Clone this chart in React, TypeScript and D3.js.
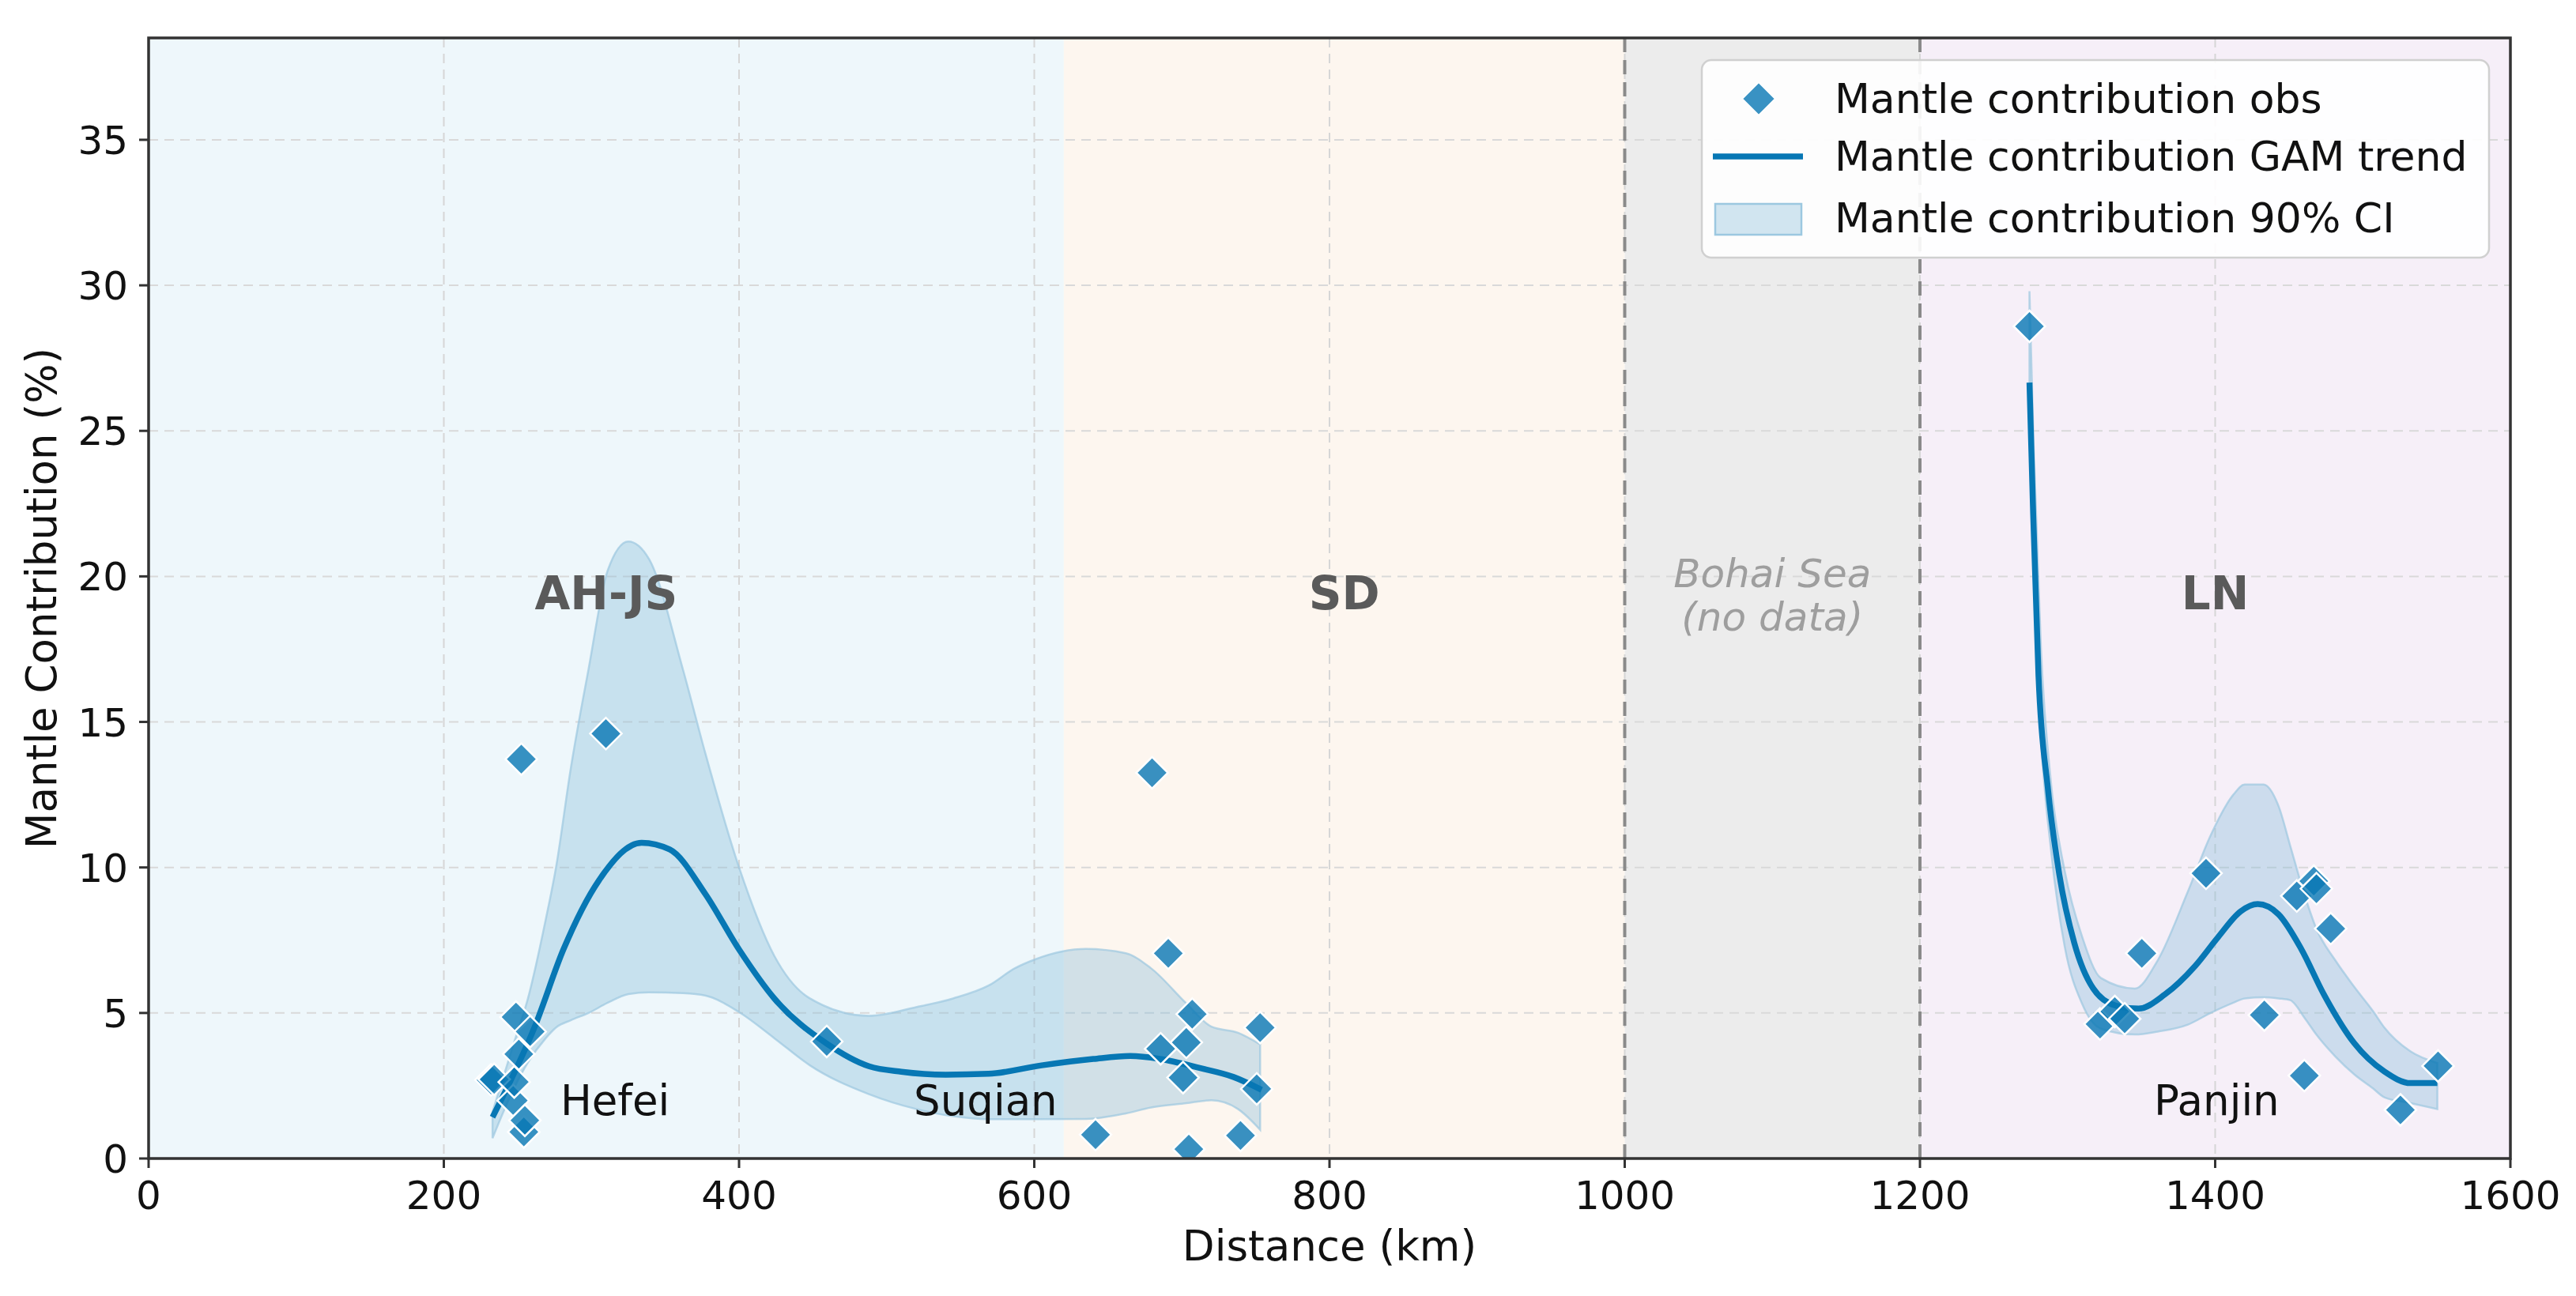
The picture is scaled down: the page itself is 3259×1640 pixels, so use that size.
import React, { useEffect } from "react";
import * as d3 from "d3";

// ---------- data ----------
const obsDistance = [
  232, 234.1, 247, 247.7, 248.9, 250.8, 252.5, 254.2, 254.9, 258.5, 309.8, 459.4,
  641.5, 679.8, 685.6, 690.8, 700.8, 703, 704.7, 707, 739.7, 750.7, 753,
  1274.2, 1322, 1332, 1338.7, 1350.3, 1393.8, 1433.3, 1455.3, 1460.4, 1466.8, 1468.6, 1478.3, 1525.5, 1551,
];
const obsMantle = [
  2.7, 2.72, 1.99, 2.63, 4.86, 3.59, 13.72, 0.91, 1.31, 4.36, 14.6, 4.02,
  0.82, 13.25, 3.77, 7.05, 2.78, 3.99, 0.32, 4.96, 0.79, 2.39, 4.5,
  28.59, 4.62, 5.05, 4.8, 7.05, 9.8, 4.93, 9.02, 2.85, 9.53, 9.27, 7.9, 1.67, 3.18,
];

// GAM trend – segment 1 (AH-JS / SD)
const trendA_x = [233, 262, 281, 305, 334, 353, 377, 400, 424, 459, 488, 510, 540, 569, 605, 640, 665, 685, 712, 735, 754];
const trendA_y = [1.42, 4.58, 7.18, 9.55, 10.85, 10.62, 9.1, 7.18, 5.49, 3.96, 3.17, 2.98, 2.88, 2.91, 3.2, 3.42, 3.52, 3.42, 3.11, 2.8, 2.36];
// CI – segment 1
const ciA_x = [233, 247.7, 257, 269, 276, 286, 298, 311, 325, 339, 362, 377, 400, 424, 448, 488, 520, 545, 569, 587, 601, 635, 662, 679, 703, 720, 738, 753];
const ciA_lo = [0.7, 2.43, 3.3, 4.13, 4.5, 4.75, 5.0, 5.35, 5.65, 5.71, 5.68, 5.6, 5.03, 4.13, 3.2, 2.21, 1.7, 1.45, 1.35, 1.35, 1.35, 1.36, 1.55, 1.75, 1.9, 2.0, 1.7, 0.99];
const ciA_hi = [1.6, 4.0, 5.5, 8.2, 10.0, 13.4, 16.8, 20.2, 21.2, 20.6, 16.8, 13.95, 10.0, 6.95, 5.5, 4.9, 5.2, 5.5, 5.94, 6.54, 6.85, 7.2, 7.05, 6.54, 5.33, 4.53, 4.32, 3.92];

// GAM trend – segment 2 (LN)
const trendB_x = [1274.2, 1276.5, 1280.3, 1286.7, 1294.4, 1304.6, 1317.4, 1332.8, 1348.1, 1366, 1386.5, 1401.9, 1417.3, 1428.8, 1442.9, 1458.3, 1473.6, 1494.1, 1514.6, 1532.5, 1550.5];
const trendB_y = [26.66, 22.5, 16.6, 12.7, 9.76, 7.4, 5.84, 5.25, 5.15, 5.64, 6.62, 7.6, 8.49, 8.74, 8.39, 7.2, 5.64, 3.97, 2.99, 2.59, 2.59];
// CI – segment 2
const ciB_x = [1274.2, 1277, 1282, 1289, 1298, 1310, 1322.6, 1345.6, 1361, 1381.5, 1396.9, 1412.3, 1420, 1432.8, 1443, 1450.8, 1461, 1468.5, 1481.5, 1494.2, 1507.1, 1514.6, 1532.6, 1550.5];
const ciB_lo = [25.5, 20.5, 14.5, 10.5, 7.3, 5.3, 4.46, 4.26, 4.36, 4.6, 5.0, 5.35, 5.5, 5.54, 5.5, 5.44, 4.8, 4.26, 3.5, 2.89, 2.4, 2.1, 1.9, 1.7];
const ciB_hi = [29.8, 24.5, 17.5, 12.8, 9.9, 7.6, 6.2, 5.84, 6.8, 9.17, 11.1, 12.5, 12.85, 12.85, 12.1, 10.75, 8.98, 7.9, 6.8, 5.9, 5.05, 4.5, 3.67, 3.28];

// Regions
const regionStart = [0, 620, 1000, 1200];
const regionEnd = [620, 1000, 1200, 1600];
const regionName = ["AH-JS", "SD", "Bohai Sea", "LN"];
const regionFill = ["#eef7fb", "#fdf6ef", "#ececec", "#f6eff8"];

// City labels
const cityName = ["Hefei", "Suqian", "Panjin"];
const cityDistance = [316, 567, 1401];
const cityValue = [2.0, 2.0, 2.0];

const xTicks = [0, 200, 400, 600, 800, 1000, 1200, 1400, 1600];
const yTicks = [0, 5, 10, 15, 20, 25, 30, 35];

const legendLabels = ["Mantle contribution obs", "Mantle contribution GAM trend", "Mantle contribution 90% CI"];

// ---------- layout ----------
const W = 3259;
const H = 1640;
const L = 188, T = 48, R = 3176, B = 1466;
const FONT = "'DejaVu Sans', sans-serif";
const BLUE = "#0777b4";

export default function App() {
  useEffect(() => {
    document.body.style.margin = "0";
  }, []);

  const x = d3.scaleLinear().domain([0, 1600]).range([L, R]);
  const y = d3.scaleLinear().domain([0, 38.5]).range([B, T]);

  const line = d3.line<[number, number]>().x((d) => x(d[0])).y((d) => y(d[1])).curve(d3.curveMonotoneX);
  const area = d3
    .area<[number, number, number]>()
    .x((d) => x(d[0]))
    .y0((d) => y(d[1]))
    .y1((d) => y(d[2]))
    .curve(d3.curveMonotoneX);

  const trendA = trendA_x.map((v, i) => [v, trendA_y[i]] as [number, number]);
  const trendB = trendB_x.map((v, i) => [v, trendB_y[i]] as [number, number]);
  const ciA = ciA_x.map((v, i) => [v, ciA_lo[i], ciA_hi[i]] as [number, number, number]);
  const ciB = ciB_x.map((v, i) => [v, ciB_lo[i], ciB_hi[i]] as [number, number, number]);

  const diamond = (cx: number, cy: number, r: number) =>
    `M${cx},${cy - r}L${cx + r},${cy}L${cx},${cy + r}L${cx - r},${cy}Z`;

  return (
    <svg width={W} height={H} style={{ position: "absolute", left: 0, top: 0, background: "#fff" }} fontFamily={FONT}>
      <defs>
        <clipPath id="plotclip">
          <rect x={L} y={T} width={R - L} height={B - T} />
        </clipPath>
      </defs>

      {/* region backgrounds */}
      {regionStart.map((s, i) => (
        <rect key={"bg" + i} x={x(s)} y={T} width={x(regionEnd[i]) - x(s)} height={B - T} fill={regionFill[i]} />
      ))}

      {/* grid */}
      {xTicks.map((t) => (
        <line key={"gx" + t} x1={x(t)} x2={x(t)} y1={T} y2={B} stroke="#d6d6d6" strokeWidth={2} strokeDasharray="12,8" />
      ))}
      {yTicks.map((t) => (
        <line key={"gy" + t} x1={L} x2={R} y1={y(t)} y2={y(t)} stroke="#d9d9d9" strokeWidth={2} strokeDasharray="12,8" />
      ))}

      {/* Bohai boundaries */}
      {[1000, 1200].map((t) => (
        <line key={"bd" + t} x1={x(t)} x2={x(t)} y1={T} y2={B} stroke="#8a8a8a" strokeWidth={4} strokeDasharray="18,10" />
      ))}

      <g clipPath="url(#plotclip)">
        {/* CI */}
        {[ciA, ciB].map((c, i) => (
          <path key={"ci" + i} d={area(c) || ""} fill="#88bcd9" fillOpacity={0.38} stroke="#9cc8e0" strokeOpacity={0.7} strokeWidth={2.5} />
        ))}
        {/* trend */}
        {[trendA, trendB].map((tr, i) => (
          <path key={"tr" + i} d={line(tr) || ""} fill="none" stroke={BLUE} strokeWidth={7.5} strokeLinecap="butt" />
        ))}
        {/* observations */}
        {obsDistance.map((dd, i) => (
          <path
            key={"o" + i}
            d={diamond(x(dd), y(obsMantle[i]), 20)}
            fill={BLUE}
            fillOpacity={0.8}
            stroke="#ffffff"
            strokeWidth={2.5}
          />
        ))}
      </g>

      {/* region labels */}
      {regionName.map((n, i) => {
        const cx = x((regionStart[i] + regionEnd[i]) / 2);
        if (n === "Bohai Sea") {
          return (
            <g key={"rl" + i} fill="#9e9e9e" fontStyle="italic" fontSize={50} textAnchor="middle">
              <text x={cx} y={y(20.1)} dominantBaseline="central">Bohai Sea</text>
              <text x={cx} y={y(18.6)} dominantBaseline="central">(no data)</text>
            </g>
          );
        }
        return (
          <text key={"rl" + i} x={cx} y={y(19.4)} fill="#5a5a5a" fontWeight="bold" fontSize={58} textAnchor="middle" dominantBaseline="central">
            {n}
          </text>
        );
      })}

      {/* city labels */}
      {cityName.map((c, i) => (
        <text key={"c" + i} x={x(cityDistance[i])} y={y(cityValue[i])} fontSize={53} textAnchor="middle" dominantBaseline="central" fill="#111">
          {c}
        </text>
      ))}

      {/* spines */}
      <rect x={L} y={T} width={R - L} height={B - T} fill="none" stroke="#333" strokeWidth={3.5} />

      {/* ticks */}
      {xTicks.map((t) => (
        <g key={"xt" + t}>
          <line x1={x(t)} x2={x(t)} y1={B} y2={B + 12} stroke="#333" strokeWidth={3} />
          <text x={x(t)} y={1530} fontSize={50} textAnchor="middle" fill="#111">
            {t}
          </text>
        </g>
      ))}
      {yTicks.map((t) => (
        <g key={"yt" + t}>
          <line x1={L - 12} x2={L} y1={y(t)} y2={y(t)} stroke="#333" strokeWidth={3} />
          <text x={L - 26} y={y(t) + 18} fontSize={50} textAnchor="end" fill="#111">
            {t}
          </text>
        </g>
      ))}

      {/* axis labels */}
      <text x={(L + R) / 2} y={1595} fontSize={53} textAnchor="middle" fill="#111">
        Distance (km)
      </text>
      <text transform={`translate(71,${(T + B) / 2}) rotate(-90)`} fontSize={53} textAnchor="middle" fill="#111">
        Mantle Contribution (%)
      </text>

      {/* legend */}
      <g>
        <rect x={2153} y={76} width={996} height={250} rx={12} fill="#ffffff" fillOpacity={0.9} stroke="#d0d0d0" strokeWidth={2.5} />
        <path d={diamond(2225, 125, 21)} fill={BLUE} fillOpacity={0.8} stroke="#fff" strokeWidth={2} />
        <line x1={2167} x2={2281} y1={198} y2={198} stroke={BLUE} strokeWidth={7.5} />
        <rect x={2170} y={258} width={109} height={39} fill="#88bcd9" fillOpacity={0.38} stroke="#9cc8e0" strokeWidth={2.5} />
        {legendLabels.map((lab, i) => (
          <text key={"lg" + i} x={2321} y={[125, 198, 276][i]} fontSize={52} dominantBaseline="central" fill="#111">
            {lab}
          </text>
        ))}
      </g>
    </svg>
  );
}
